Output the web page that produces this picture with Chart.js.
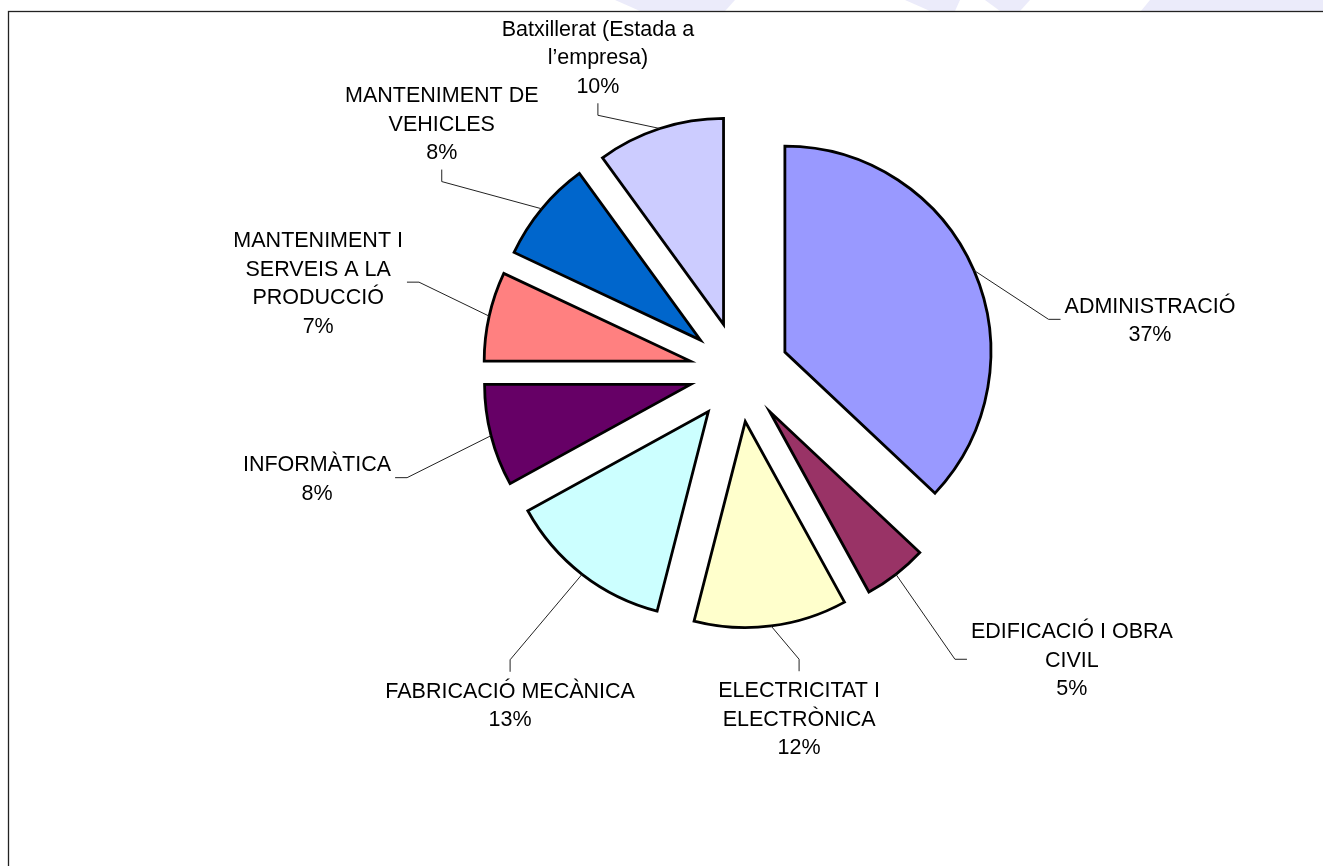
<!DOCTYPE html>
<html>
<head>
<meta charset="utf-8">
<script src="https://cdn.jsdelivr.net/npm/chart.js@4"></script>
<style>
  html, body { margin: 0; padding: 0; background: #fff; }
  canvas { display: block; }
</style>
</head>
<body>
<canvas id="pie" width="1323" height="866"></canvas>
<script>
// data
var categories = [
    ['ADMINISTRACIÓ'],
    ['EDIFICACIÓ I OBRA', 'CIVIL'],
    ['ELECTRICITAT I', 'ELECTRÒNICA'],
    ['FABRICACIÓ MECÀNICA'],
    ['INFORMÀTICA'],
    ['MANTENIMENT I', 'SERVEIS A LA', 'PRODUCCIÓ'],
    ['MANTENIMENT DE', 'VEHICLES'],
    ['Batxillerat (Estada a', 'l’empresa)']
]
var percents = [37, 5, 12, 13, 8, 7, 8, 10]
var sliceColors = ['#9999FF', '#993366', '#FFFFCC', '#CCFFFF', '#660066', '#FF8080', '#0066CC', '#CCCCFF']

// label placement (shift of the label block from the slice's outer mid point)
var labelShift = [[176, 49], [176, 85], [28, 92], [-72, 130], [-174, 42], [-171, -34], [-100, -86], [-62, -72]]

const EXPLODE = 50
const FONT_SIZE = 21.5
const LINE_H = 28.5
const FONT = FONT_SIZE + "px 'Liberation Sans', Arial, sans-serif"

// page frame + faint watermark strip at the top
const framePlugin = {
    id: 'frame',
    beforeDraw(chart) {
        const ctx = chart.ctx
        ctx.save()
        ctx.fillStyle = '#fff'
        ctx.fillRect(0, 0, chart.width, chart.height)
        ctx.fillStyle = '#EBEBFA'
        const polys = [
            [[615, 0], [735, 0], [725, 11], [640, 11]],
            [[905, 0], [960, 0], [955, 11], [930, 11]],
            [[985, 0], [1030, 0], [1020, 11], [1000, 11]],
            [[1150, 0], [1323, 0], [1323, 11], [1141, 11]]
        ]
        polys.forEach(p => {
            ctx.beginPath()
            p.forEach((pt, i) => i ? ctx.lineTo(pt[0], pt[1]) : ctx.moveTo(pt[0], pt[1]))
            ctx.closePath()
            ctx.fill()
        })
        ctx.strokeStyle = '#222'
        ctx.lineWidth = 1.3
        ctx.strokeRect(8.5, 11.5, 3000, 3000)
        ctx.restore()
    }
}

// draw every slice pulled out along its bisector (Excel style explode)
const explodePlugin = {
    id: 'explode',
    beforeDatasetDraw(chart, args) {
        const ctx = chart.ctx
        const meta = args.meta
        meta.data.forEach(arc => {
            const mid = (arc.startAngle + arc.endAngle) / 2
            ctx.save()
            ctx.translate(Math.cos(mid) * EXPLODE, Math.sin(mid) * EXPLODE)
            arc.draw(ctx)
            ctx.restore()
        })
        return false
    }
}

// labels with leader lines
const labelPlugin = {
    id: 'sliceLabels',
    afterDatasetsDraw(chart) {
        const ctx = chart.ctx
        const meta = chart.getDatasetMeta(0)
        const values = chart.data.datasets[0].data
        const total = values.reduce((a, b) => a + b, 0)
        ctx.save()
        ctx.font = FONT
        ctx.fillStyle = '#000'
        ctx.textAlign = 'center'
        ctx.textBaseline = 'alphabetic'
        meta.data.forEach((arc, i) => {
            const mid = (arc.startAngle + arc.endAngle) / 2
            const r = arc.outerRadius + EXPLODE
            const px = arc.x + Math.cos(mid) * r
            const py = arc.y + Math.sin(mid) * r
            const lines = chart.data.labels[i].concat([Math.round(values[i] / total * 100) + '%'])
            const w = Math.max(...lines.map(l => ctx.measureText(l).width))
            const h = lines.length * LINE_H
            const cx = px + labelShift[i][0]
            const cy = py + labelShift[i][1]

            let bend, end
            if (Math.abs(px - cx) < w / 2 + 10) {
                if (py > cy) {
                    end = [cx, cy + h / 2 + 4]
                    bend = [cx, end[1] + 12]
                } else {
                    end = [cx, cy - h / 2 - 4]
                    bend = [cx, end[1] - 12]
                }
            } else {
                if (px > cx) {
                    end = [cx + w / 2 + 4, cy]
                    bend = [end[0] + 12, cy]
                } else {
                    end = [cx - w / 2 - 4, cy]
                    bend = [end[0] - 12, cy]
                }
            }
            ctx.strokeStyle = '#222'
            ctx.lineWidth = 1
            ctx.beginPath()
            ctx.moveTo(px, py)
            ctx.lineTo(bend[0], bend[1])
            ctx.lineTo(end[0], end[1])
            ctx.stroke()

            lines.forEach((l, k) => {
                const lineMid = cy - h / 2 + LINE_H * (k + 0.5)
                ctx.fillText(l, cx, lineMid + FONT_SIZE * 0.358)
            })
        })
        ctx.restore()
    }
}

new Chart(document.getElementById('pie').getContext('2d'), {
    type: 'pie',
    data: {
        labels: categories,
        datasets: [{
            data: percents,
            backgroundColor: sliceColors,
            borderColor: '#000',
            borderWidth: 2.8,
            borderJoinStyle: 'miter'
        }]
    },
    options: {
        responsive: false,
        animation: false,
        radius: 206,
        layout: {
            padding: { left: 339, right: 184, top: 72, bottom: 194 }
        },
        plugins: {
            legend: { display: false },
            tooltip: { enabled: false },
            title: { display: false }
        }
    },
    plugins: [framePlugin, explodePlugin, labelPlugin]
});
</script>
</body>
</html>
